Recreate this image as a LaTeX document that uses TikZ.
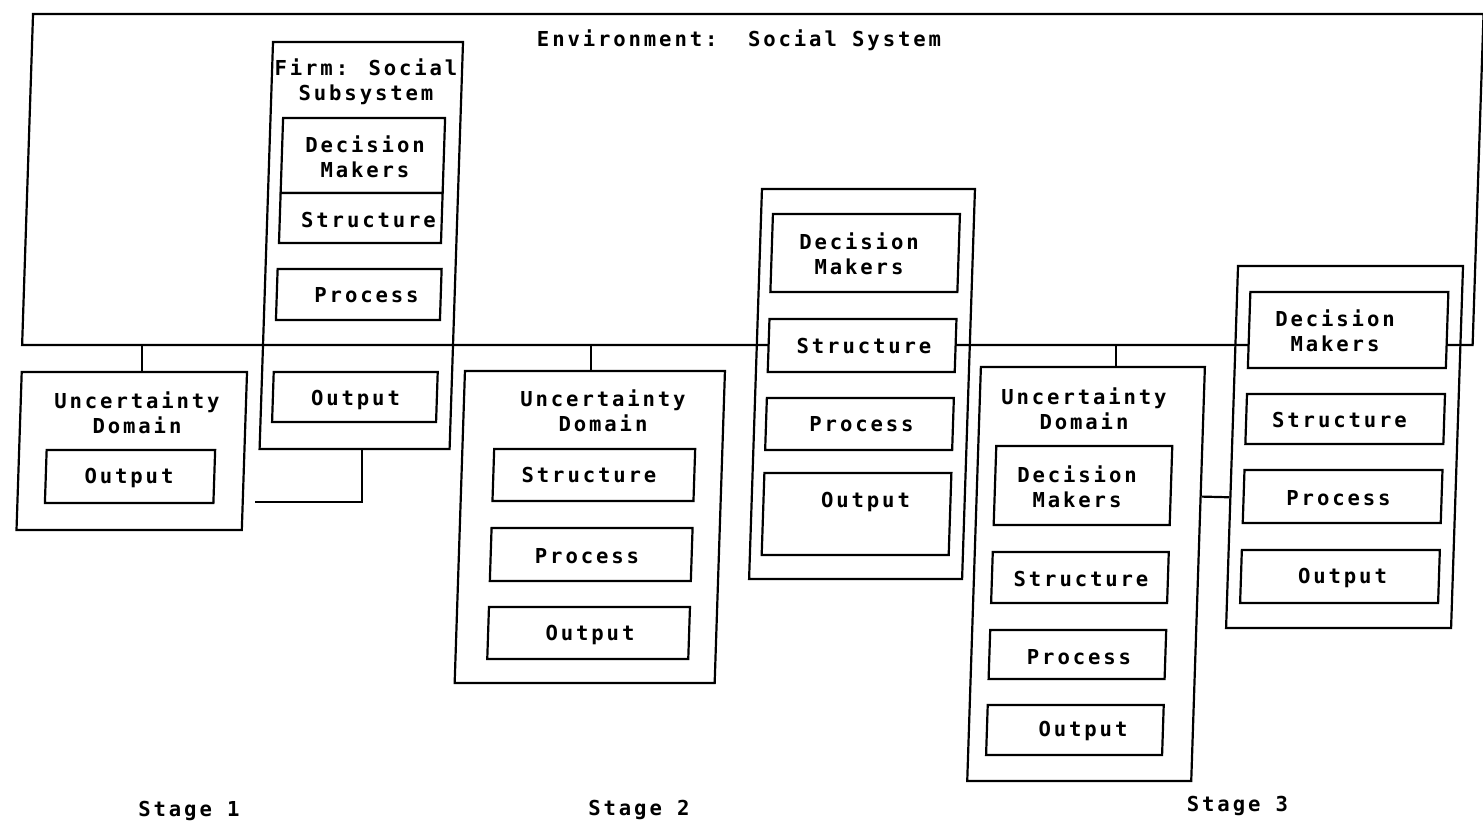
\documentclass[tikz,border=0pt]{standalone}
\usepackage{fontspec}
\newfontfamily\dfont{DejaVu Sans Mono}[LetterSpace=14]
\usetikzlibrary{calc}
\tikzset{
  txt/.style={font=\dfont\bfseries\fontsize{10.3}{12.5}\selectfont, align=center, inner sep=0pt},
  inbox/.style={draw, line width=1.1pt, fill=white, inner sep=0pt},
  cont/.style={draw, line width=1.1pt, inner sep=0pt},
  conn/.style={line width=1.1pt}
}
% \mkbox{name}{style}{x-left}{y-top}{x-right}{y-bottom}  (x at y=0, before the slant)
\newcommand\mkbox[6]{%
  \pgfmathsetmacro\mbcx{(#3+#5)/2}\pgfmathsetmacro\mbcy{(#4+#6)/2}%
  \pgfmathsetlengthmacro\mbw{(#5-#3)*0.5pt}\pgfmathsetlengthmacro\mbh{(#6-#4)*0.5pt}%
  \node[#2, transform shape, minimum width=\mbw, minimum height=\mbh] (#1) at (\mbcx,\mbcy) {};}
\begin{document}
\begin{tikzpicture}[x=0.5pt,y=-0.5pt]
\useasboundingbox (0,0) rectangle (1483,832);
\begin{scope}[xslant=0.033]
% environment
\mkbox{env}{cont}{33.5}{14}{1484}{345}
% stage 1
\mkbox{firm1}{cont}{274.4}{42}{464.4}{449}
\mkbox{dm1}{inbox}{287}{118}{449}{193}
\mkbox{st1}{inbox}{287}{193}{449}{243}
\mkbox{pr1}{inbox}{286.5}{269}{450.5}{320}
\mkbox{ou1}{inbox}{286}{372}{450}{422}
\mkbox{ud1}{cont}{34}{372}{259.3}{530}
\mkbox{uo1}{inbox}{61.5}{450}{230}{503}
% stage 2
\mkbox{ud2}{cont}{477.2}{371}{737.2}{683}
\mkbox{st2}{inbox}{509}{449}{710}{501}
\mkbox{pr2}{inbox}{509}{528}{710}{581}
\mkbox{ou2}{inbox}{509}{607}{710}{659}
\mkbox{firm2}{cont}{768.2}{189}{981.2}{579}
\mkbox{dm2}{inbox}{780}{214}{967}{292}
\mkbox{st2b}{inbox}{780}{319}{967}{372}
\mkbox{pr2b}{inbox}{780}{398}{967}{450}
\mkbox{ou2b}{inbox}{780}{473}{967}{555}
% stage 3
\mkbox{ud3}{cont}{993}{367}{1217}{781}
\mkbox{dm3}{inbox}{1011}{446}{1187}{525}
\mkbox{st3}{inbox}{1011}{552}{1187}{603}
\mkbox{pr3}{inbox}{1011}{630}{1187}{679}
\mkbox{ou3}{inbox}{1011}{705}{1187}{755}
\mkbox{firm3}{cont}{1246.8}{266}{1471.8}{628}
\mkbox{dm3b}{inbox}{1260}{292}{1458}{368}
\mkbox{st3b}{inbox}{1260}{394}{1458}{444}
\mkbox{pr3b}{inbox}{1260}{470}{1458}{523}
\mkbox{ou3b}{inbox}{1260}{550}{1458}{603}
\end{scope}
% connectors
\draw[conn] ($(ud1.north west)!0.534!(ud1.north east)$) coordinate (k1) -- (k1 |- env.south);
\coordinate (c1) at (255,502);
\draw[conn] ($(firm1.south west)!0.539!(firm1.south east)$) |- (c1);
\draw[conn] ($(ud2.north west)!0.485!(ud2.north east)$) coordinate (k2) -- (k2 |- env.south);
\draw[conn] ($(ud3.north west)!0.603!(ud3.north east)$) coordinate (k3) -- (k3 |- env.south);
\draw[conn] ($(ud3.north east)!0.314!(ud3.south east)$) -- ($(firm3.north west)!0.638!(firm3.south west)$);
% texts
\node[txt] (envt) at (739,40) {Environment:\ \ Social System};
\node[txt] (firm1t) at (366,82) {Firm: Social\\Subsystem};
\node[txt] (dm1t) at (365,157) {Decision\\Makers};
\node[txt] (st1t) at (368.5,220) {Structure};
\node[txt] (pr1t) at (366.5,295) {Process};
\node[txt] (ou1t) at (355.5,400) {Output};
\node[txt] (ud1t) at (137,412.5) {Uncertainty\\Domain};
\node[txt] (uo1t) at (129,478) {Output};
\node[txt] (ud2t) at (603,411) {Uncertainty\\Domain};
\node[txt] (st2t) at (589,475) {Structure};
\node[txt] (pr2t) at (587,556) {Process};
\node[txt] (ou2t) at (590,635) {Output};
\node[txt] (dm2t) at (859,254) {Decision\\Makers};
\node[txt] (st2bt) at (864,346) {Structure};
\node[txt] (pr2bt) at (861.5,424) {Process};
\node[txt] (ou2bt) at (865.5,502) {Output};
\node[txt] (ud3t) at (1084,409) {Uncertainty\\Domain};
\node[txt] (dm3t) at (1077,486.5) {Decision\\Makers};
\node[txt] (st3t) at (1081,579) {Structure};
\node[txt] (pr3t) at (1079,657) {Process};
\node[txt] (ou3t) at (1083,731) {Output};
\node[txt] (dm3bt) at (1335,330.5) {Decision\\Makers};
\node[txt] (st3bt) at (1339.5,420) {Structure};
\node[txt] (pr3bt) at (1338.5,498) {Process};
\node[txt] (ou3bt) at (1342.5,578) {Output};
% stage labels
\node[txt] (s1) at (189,811) {Stage 1};
\node[txt] (s2) at (639,810) {Stage 2};
\node[txt] (s3) at (1237.5,806) {Stage 3};
\end{tikzpicture}
\end{document}
